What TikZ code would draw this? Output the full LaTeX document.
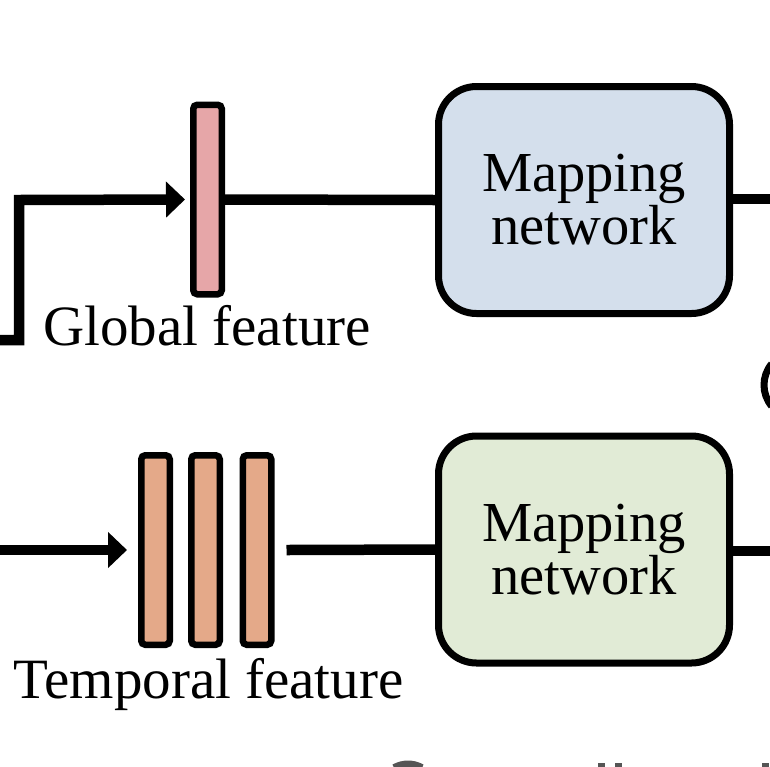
\documentclass[tikz,border=0pt]{standalone}
\usepackage{fontspec}
\setmainfont{Liberation Serif}
\usetikzlibrary{arrows.meta}
\definecolor{pinkc}{HTML}{E6A6A8}
\definecolor{orangec}{HTML}{E4A989}
\definecolor{bluec}{HTML}{D4DFEC}
\definecolor{greenc}{HTML}{E1EBD6}
\definecolor{grayc}{HTML}{555555}
\tikzset{
  conn/.style={line width=10.5pt, line join=miter, draw=black},
  arr/.style={conn, -{Triangle[length=19pt,width=35pt]}},
  featbar/.style={draw=black, line width=6.5pt, rounded corners=4pt, minimum width=28.5pt, minimum height=189.5pt, inner sep=0pt},
  mapbox/.style={draw=black, line width=7pt, rounded corners=38pt, minimum width=291pt, minimum height=227pt, align=center, font=\fontsize{56.5}{53}\selectfont},
  lbl/.style={font=\fontsize{57}{60}\selectfont, anchor=base, inner sep=0pt}
}
\begin{document}
\begin{tikzpicture}[x=1pt,y=-1pt]
\clip (0,0) rectangle (770,766);
\fill[white] (0,0) rectangle (770,766);
% top row
\node[featbar, fill=pinkc] (gbar) at (207.5,199.5) {};
\node[mapbox, fill=bluec] (mtop) at (584,200) {Mapping\\network};
\node[lbl] (glbl) at (207,345) {Global feature};
\coordinate (gin) at (-5,340);
\coordinate (gout) at (780,199);
\draw[arr] (gin) -- (19,340) -- (19,200) -- ([xshift=-5pt]gbar.west);
\draw[conn] (gbar.east) -- (mtop.west);
\draw[conn] (mtop.east |- gout) -- (gout);
% bottom row
\node[featbar, fill=orangec] (b1) at (155.5,550) {};
\node[featbar, fill=orangec] (b2) at (205.5,550) {};
\node[featbar, fill=orangec] (b3) at (257,550) {};
\node[mapbox, fill=greenc] (mbot) at (584,549.5) {Mapping\\network};
\node[lbl] (tlbl) at (208.5,698) {Temporal feature};
\coordinate (tin) at (-5,550);
\coordinate (tout) at (780,551);
\draw[arr] (tin) -- ([xshift=-11pt]b1.west);
\draw[conn] ([xshift=12pt]b3.east) -- (mbot.west);
\draw[conn] (mbot.east |- tout) -- (tout);
% partial elements cut by the frame
\draw[line width=7pt] (797,385) ++(140:33) arc[start angle=140, end angle=220, radius=33];
\draw[grayc, line width=7pt] (408,792) ++(240:28) arc[start angle=240, end angle=300, radius=28];
\fill[grayc] (598,763) rectangle (605,767);
\fill[grayc] (615,763) rectangle (622,767);
\fill[grayc] (762,763) rectangle (769,767);
\end{tikzpicture}
\end{document}
